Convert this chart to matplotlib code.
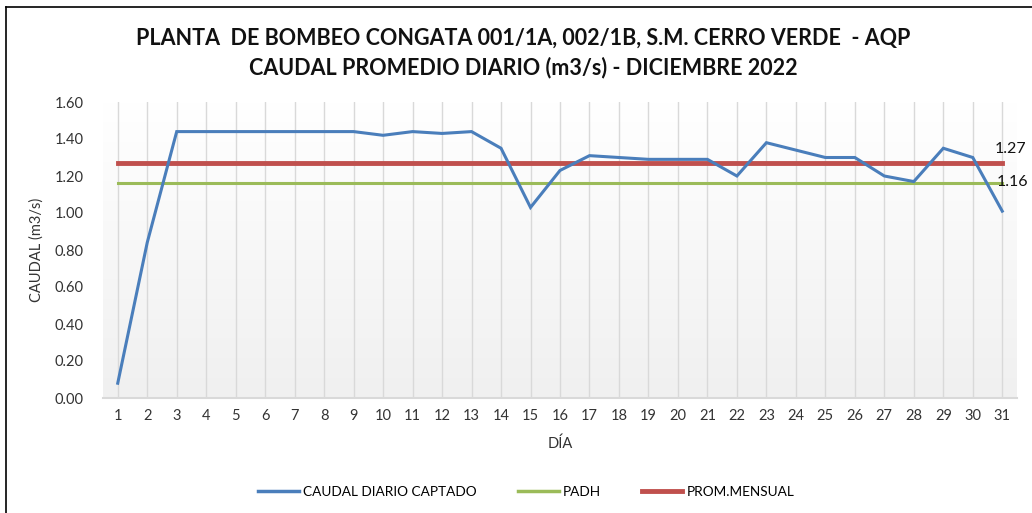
import numpy as np
import matplotlib
matplotlib.use("Agg")
import matplotlib.pyplot as plt
from matplotlib.lines import Line2D

plt.rcParams["font.family"] = ["Lato", "DejaVu Sans"]

DIAS = list(range(1, 32))
CAUDAL = [0.08, 0.84, 1.44, 1.44, 1.44, 1.44, 1.44, 1.44, 1.44, 1.42,
          1.44, 1.43, 1.44, 1.35, 1.03, 1.23, 1.31, 1.30, 1.29, 1.29,
          1.29, 1.20, 1.38, 1.34, 1.30, 1.30, 1.20, 1.17, 1.35, 1.30,
          1.01]
PADH = 1.16
PROM_MENSUAL = 1.27
Y_TICKS = [0.0, 0.2, 0.4, 0.6, 0.8, 1.0, 1.2, 1.4, 1.6]

BLUE = "#4a7ebb"
GREEN = "#9bbb59"
RED = "#c0504d"

fig = plt.figure(figsize=(10.32, 5.13), dpi=100)
fig.patch.set_facecolor("white")
W, H = 1032, 513
ax = fig.add_axes([103 / W, 1 - 398 / H, (1017 - 103) / W, (398 - 102) / H])

ax.set_xlim(0.5, 31.5)
ax.set_ylim(0, 1.6)

# gradient background of the plot area
grad = np.linspace(1.0, 0.0, 256).reshape(-1, 1)
ax.imshow(grad, extent=(0.5, 31.5, 0, 1.6), aspect="auto", origin="upper",
          cmap=matplotlib.colors.LinearSegmentedColormap.from_list(
              "bg", ["#f0f0f0", "#ffffff"]), zorder=0)

# vertical gridlines at each day
for d in DIAS:
    ax.axvline(d, color="#d9d9d9", linewidth=1.0, zorder=1)

ax.plot(DIAS, CAUDAL, color=BLUE, linewidth=2.2, zorder=4,
        solid_joinstyle="miter")
ax.plot([DIAS[0], DIAS[-1]], [PADH, PADH], color=GREEN, linewidth=2.2, zorder=3)
ax.plot([DIAS[0], DIAS[-1]], [PROM_MENSUAL, PROM_MENSUAL], color=RED,
        linewidth=3.5, zorder=3)

# value labels at the right end of the reference lines
ax.text(30.75, PROM_MENSUAL + 0.075, f"{PROM_MENSUAL:.2f}", fontsize=11.5,
        ha="left", va="center", color="#111", clip_on=False)
ax.text(30.82, PADH + 0.005, f"{PADH:.2f}", fontsize=11.5,
        ha="left", va="center", color="#111", clip_on=False)

ax.set_xticks(DIAS)
ax.set_xticklabels([str(d) for d in DIAS], fontsize=10.5, color="#333")
ax.set_yticks(Y_TICKS)
ax.set_yticklabels([f"{v:.2f}" for v in Y_TICKS], fontsize=10.5, color="#333")
ax.tick_params(length=0, pad=8)
ax.tick_params(axis="y", pad=14)

for s in ("top", "right", "left"):
    ax.spines[s].set_visible(False)
ax.spines["bottom"].set_color("#d9d9d9")
ax.spines["bottom"].set_linewidth(1.5)

ax.set_xlabel("DÍA", fontsize=10.5, color="#333", labelpad=10)
ax.set_ylabel("CAUDAL (m3/s)", fontsize=10.5, color="#333", labelpad=8)

fig.text(0.507, 1 - 38 / H, "PLANTA  DE BOMBEO CONGATA 001/1A, 002/1B, S.M. CERRO VERDE  - AQP",
         ha="center", va="center", fontsize=15.5, fontweight="bold", color="#111")
fig.text(0.507, 1 - 68 / H, "CAUDAL PROMEDIO DIARIO (m3/s) - DICIEMBRE 2022",
         ha="center", va="center", fontsize=15.5, fontweight="bold", color="#111")

handles = [Line2D([], [], color=BLUE, linewidth=2.5),
           Line2D([], [], color=GREEN, linewidth=2.5),
           Line2D([], [], color=RED, linewidth=3.5)]
fig.legend(handles, ["CAUDAL DIARIO CAPTADO", "PADH", "PROM.MENSUAL"],
           loc="center", bbox_to_anchor=(0.51, 1 - 492 / H), ncol=3,
           frameon=False, fontsize=9.8, handlelength=3.0, columnspacing=3.0,
           handletextpad=0.3)

# outer chart border (top and left visible)
fig.add_artist(Line2D([6 / W, 6 / W], [0, 1 - 7 / H], color="black",
                      linewidth=1.2, transform=fig.transFigure))
fig.add_artist(Line2D([6 / W, 1], [1 - 7 / H, 1 - 7 / H], color="black",
                      linewidth=1.2, transform=fig.transFigure))

fig.savefig("out.png", dpi=100, facecolor="white")
